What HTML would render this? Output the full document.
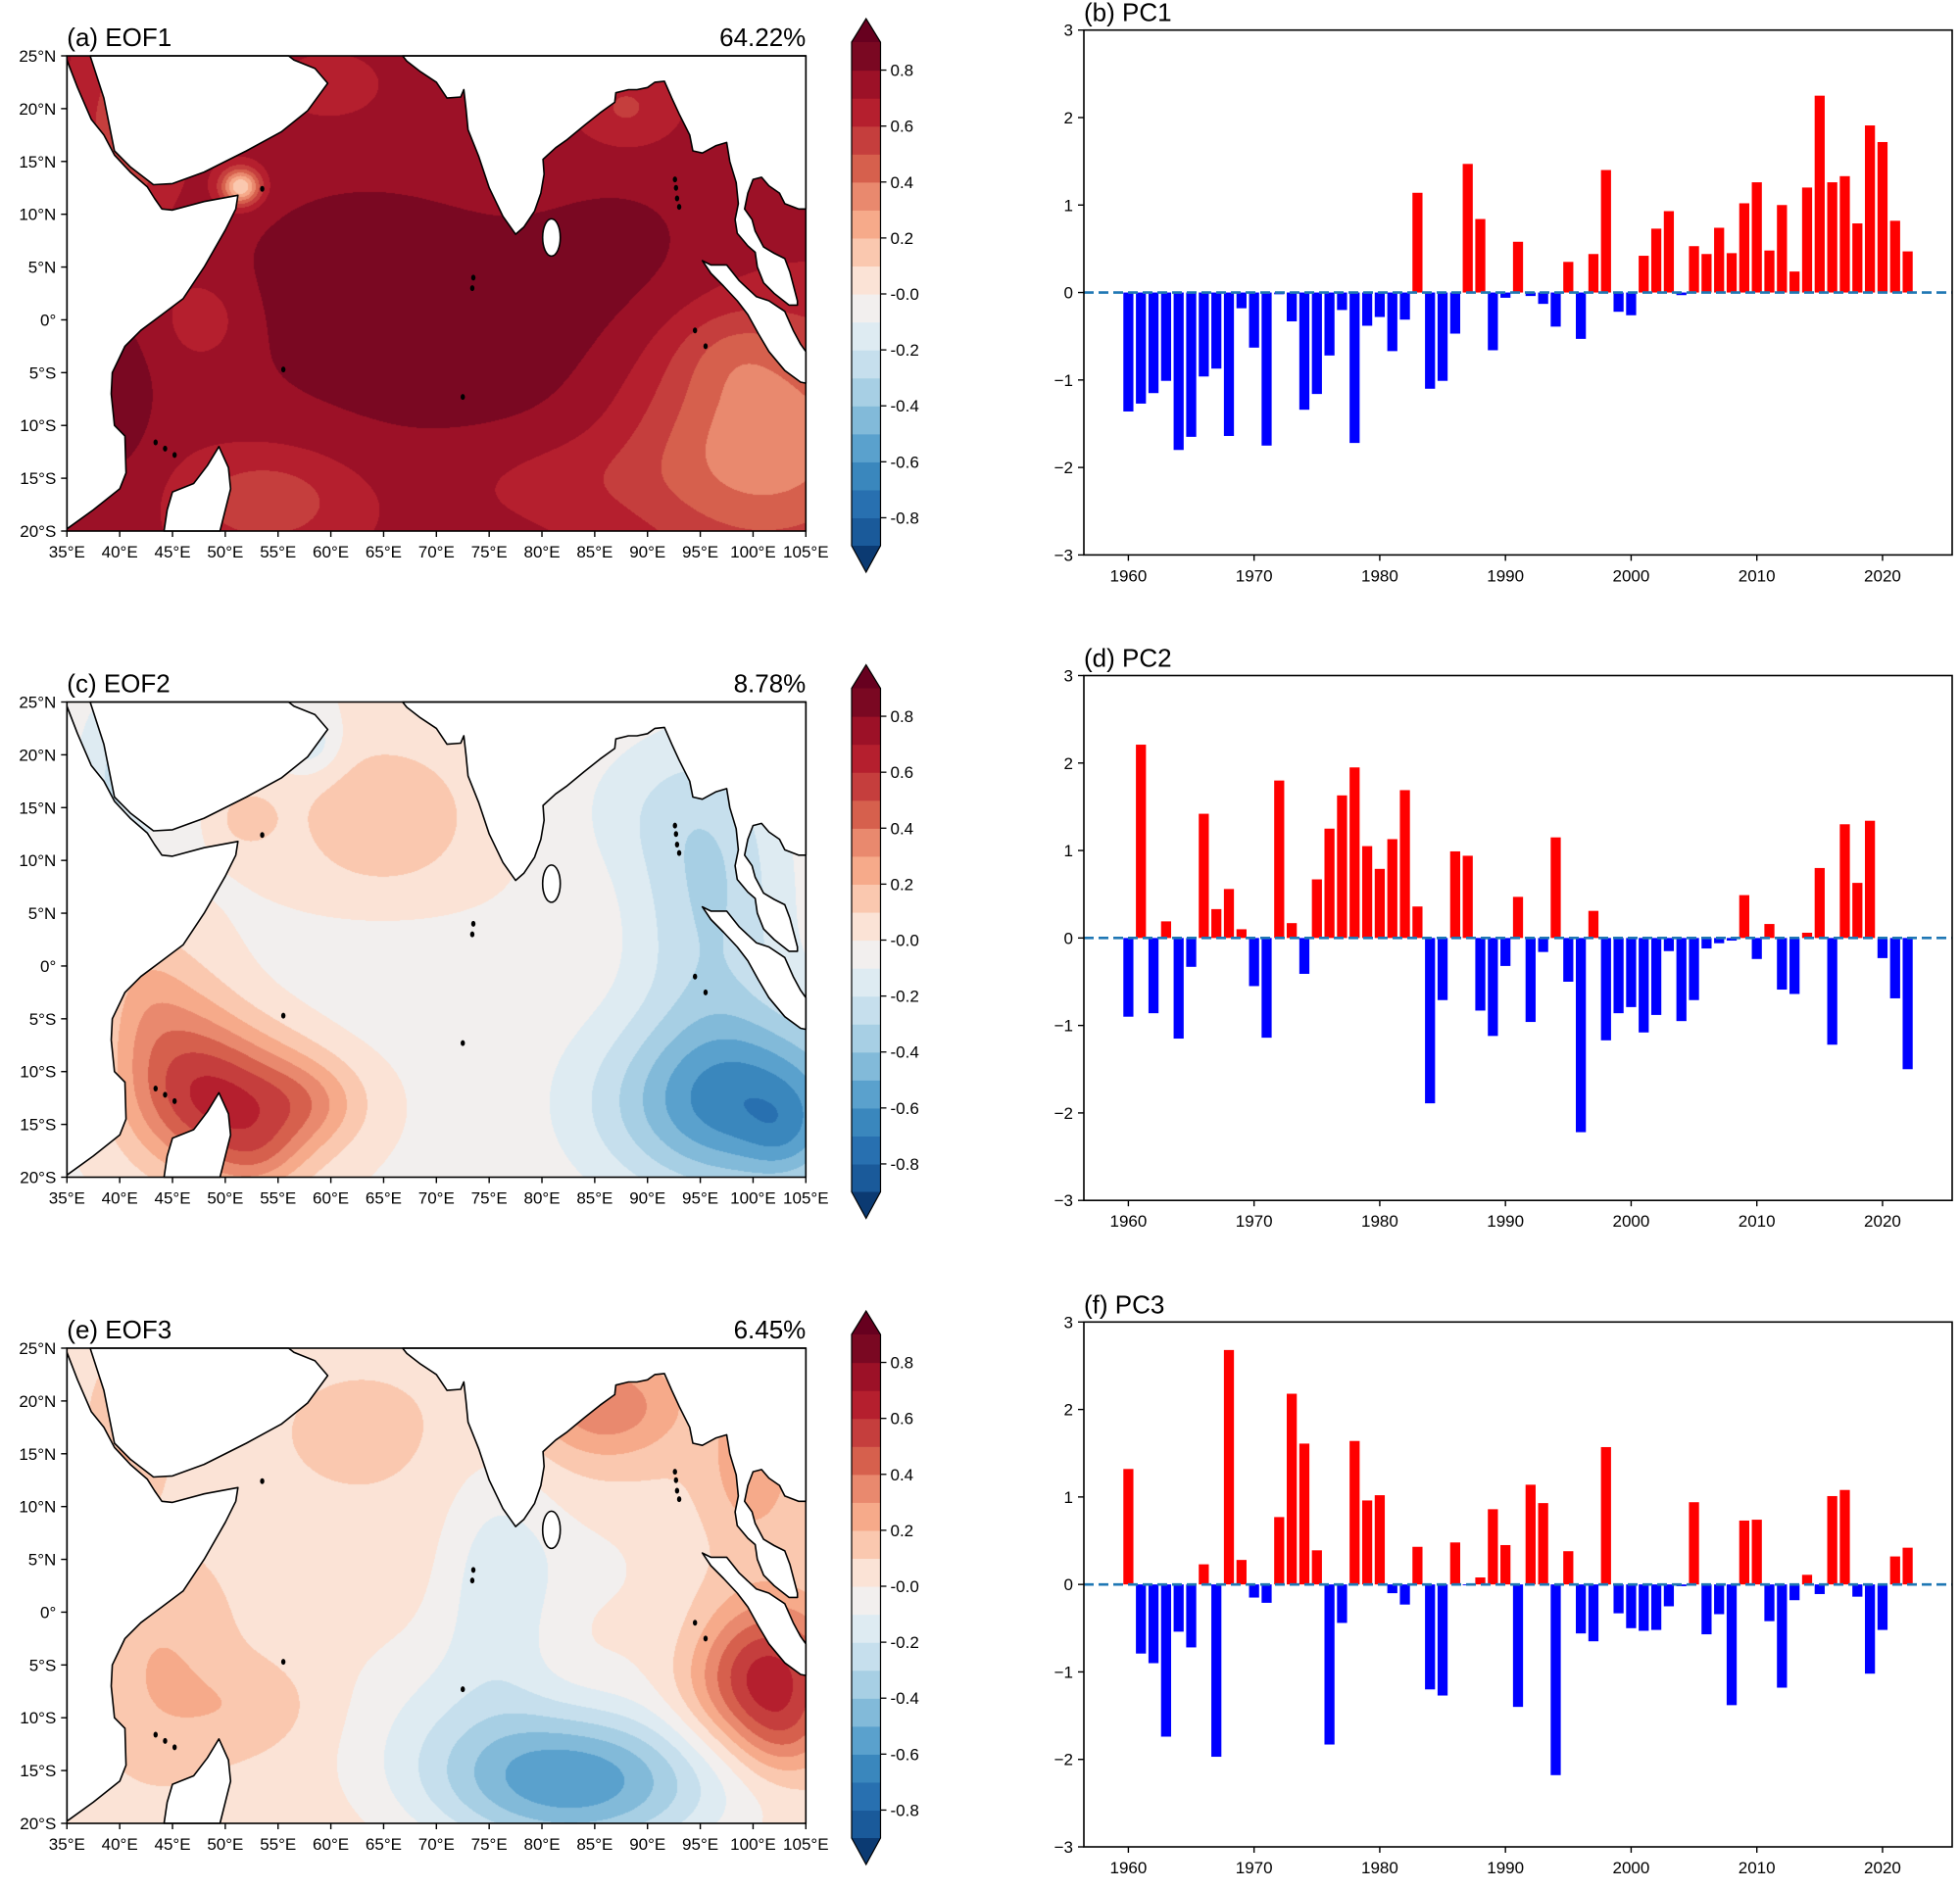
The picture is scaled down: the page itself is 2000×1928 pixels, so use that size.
<!DOCTYPE html>
<html><head><meta charset="utf-8">
<style>
html,body{margin:0;padding:0;background:#fff;}
#wrap{position:relative;width:2000px;height:1928px;overflow:hidden;font-family:"Liberation Sans","DejaVu Sans",sans-serif;}
canvas{position:absolute;}
svg{position:absolute;left:0;top:0;}
</style></head>
<body>
<div id="wrap">
<canvas id="cv0" width="754" height="485" style="left:68px;top:57px"></canvas>
<canvas id="cv1" width="754" height="485" style="left:68px;top:717px"></canvas>
<canvas id="cv2" width="754" height="485" style="left:68px;top:1376px"></canvas>
<svg id="svg" width="2000" height="1928" xmlns="http://www.w3.org/2000/svg"></svg>
</div>
<script>
// ---------- PC data ----------
const years = [];
for (let y = 1960; y <= 2022; y++) years.push(y);
const pc1 = [-1.36,-1.27,-1.15,-1.01,-1.8,-1.65,-0.96,-0.87,-1.64,-0.18,-0.63,-1.75,-0.02,-0.33,-1.34,-1.16,-0.72,-0.2,-1.72,-0.38,-0.28,-0.67,-0.31,1.14,-1.1,-1.01,-0.47,1.47,0.84,-0.66,-0.06,0.58,-0.04,-0.13,-0.39,0.35,-0.53,0.44,1.4,-0.22,-0.26,0.42,0.73,0.93,-0.03,0.53,0.44,0.74,0.45,1.02,1.26,0.48,1.0,0.24,1.2,2.25,1.26,1.33,0.79,1.91,1.72,0.82,0.47];
const pc2 = [-0.9,2.21,-0.86,0.19,-1.15,-0.33,1.42,0.33,0.56,0.1,-0.55,-1.14,1.8,0.17,-0.41,0.67,1.25,1.63,1.95,1.05,0.79,1.13,1.69,0.36,-1.89,-0.71,0.99,0.94,-0.83,-1.12,-0.32,0.47,-0.96,-0.16,1.15,-0.5,-2.22,0.31,-1.17,-0.86,-0.79,-1.08,-0.88,-0.15,-0.95,-0.71,-0.12,-0.06,-0.03,0.49,-0.24,0.16,-0.59,-0.64,0.06,0.8,-1.22,1.3,0.63,1.34,-0.23,-0.69,-1.5];
const pc3 = [1.32,-0.79,-0.9,-1.74,-0.54,-0.72,0.23,-1.97,2.68,0.28,-0.15,-0.21,0.77,2.18,1.61,0.39,-1.83,-0.44,1.64,0.96,1.02,-0.1,-0.23,0.43,-1.2,-1.27,0.48,-0.01,0.08,0.86,0.45,-1.4,1.14,0.93,-2.18,0.38,-0.56,-0.65,1.57,-0.33,-0.5,-0.53,-0.52,-0.25,-0.02,0.94,-0.57,-0.34,-1.38,0.73,0.74,-0.42,-1.18,-0.18,0.11,-0.11,1.01,1.08,-0.14,-1.02,-0.52,0.32,0.42];
const yTicks = [3,2,1,0,-1,-2,-3];
const xTicks = [1960,1970,1980,1990,2000,2010,2020];
const pcTitles = ["(b) PC1","(d) PC2","(f) PC3"];
const mapTitles = ["(a) EOF1","(c) EOF2","(e) EOF3"];
const mapPercents = ["64.22%","8.78%","6.45%"];
const cbTicks = [0.8,0.6,0.4,0.2,0.0,-0.2,-0.4,-0.6,-0.8];
const latTicks = [25,20,15,10,5,0,-5,-10,-15,-20];
const lonTicks = [35,40,45,50,55,60,65,70,75,80,85,90,95,100,105];
// field bumps: [lon, lat, sx, sy, amp]
const eof1Base = 0.72;
const eof1Bumps = [[75,-2,18,9,0.14],[62,6,8,6,0.08],[88,8,6,5,0.06],[101,-11,9,8,-0.42],[98,-3,4,3,-0.1],[54,-17,6,3.5,-0.2],[51.5,12.6,1.3,1.2,-0.65],[41,18,3,6,-0.22],[48,0,3,3,-0.12],[40,-8,3,8,0.1],[88,20,3,2.5,-0.14],[60,22,3,2,-0.08],[82,-15,8,3,-0.08]];
const eof2Base = -0.02;
const eof2Bumps = [[50,-13,6,5,0.55],[58,-13,4,3,0.2],[53,-18,3,2.5,0.15],[46,-7,4,6,0.2],[65,14,7,6,0.2],[52,14,2,2,0.15],[42,-3,3,6,0.15],[99,-13,9,6,-0.62],[103,-16,2.5,3,-0.12],[96,6,5,10,-0.28],[90,15,6,5,-0.1],[40,18,3,6,-0.2],[58,21,2,2,-0.2],[65,0,8,5,-0.05]];
const eof3Base = 0.08;
const eof3Bumps = [[44,-5,4,6,0.12],[52,-9,5,3,0.1],[41,17,2,4,0.15],[63,17,4,3,0.08],[86,19.5,5,3.5,0.3],[100,14,3,5,0.2],[101,-6,5,5,0.62],[103,-12,3,3,0.15],[83,-16,10,5,-0.65],[76,3,4,8,-0.22],[70,-8,8,6,-0.12],[95,-3,6,4,-0.1],[85,5,6,4,-0.08]];
const levelColors = ["#1a5a9a","#2870b0","#3a87bd","#5aa1cd","#82bad9","#a7cfe4","#c6dfed","#deebf2","#f2efee","#fbe3d6","#fac8af","#f6aa8a","#e9896e","#d6604d","#c53e3d","#b51f2e","#9c1127","#7a0822"];
const lowExtend = "#0b3a72", highExtend = "#67001f";

// ---------- helpers ----------
const NS = "http://www.w3.org/2000/svg";
const svg = document.getElementById("svg");
function mk(tag, attrs, parent) {
  const e = document.createElementNS(NS, tag);
  for (const k in attrs) e.setAttribute(k, attrs[k]);
  (parent || svg).appendChild(e);
  return e;
}
function txt(s, x, y, size, anchor, parent) {
  const t = mk("text", {x: x, y: y, "font-size": size, "text-anchor": anchor || "start", fill: "#000", "font-family": "Liberation Sans, DejaVu Sans, sans-serif"}, parent);
  t.textContent = s;
  return t;
}

// ---------- maps ----------
const MX = 68.3, MW = 754, MH = 485;
const mapTops = [57, 716.5, 1376];
function hexRGB(h){return [parseInt(h.slice(1,3),16),parseInt(h.slice(3,5),16),parseInt(h.slice(5,7),16)];}
const levRGB = levelColors.map(hexRGB);
const lowRGB = hexRGB(lowExtend), highRGB = hexRGB(highExtend);
function field(base, bumps, lon, lat) {
  let v = base;
  for (const b of bumps) {
    const dx = (lon - b[0]) / b[2], dy = (lat - b[1]) / b[3];
    v += b[4] * Math.exp(-0.5 * (dx*dx + dy*dy));
  }
  return v;
}
const fields = [[eof1Base,eof1Bumps],[eof2Base,eof2Bumps],[eof3Base,eof3Bumps]];
fields.forEach((f, i) => {
  const cv = document.getElementById("cv" + i);
  const ctx = cv.getContext("2d");
  const img = ctx.createImageData(MW, MH);
  for (let py = 0; py < MH; py++) {
    const lat = 25 - (py + 0.5) / MH * 45;
    for (let px = 0; px < MW; px++) {
      const lon = 35 + (px + 0.5) / MW * 70;
      const v = field(f[0], f[1], lon, lat);
      const k = Math.floor((v + 0.9) / 0.1);
      const c = k < 0 ? lowRGB : (k > 17 ? highRGB : levRGB[k]);
      const o = (py * MW + px) * 4;
      img.data[o] = c[0]; img.data[o+1] = c[1]; img.data[o+2] = c[2]; img.data[o+3] = 255;
    }
  }
  ctx.putImageData(img, 0, 0);
});

const africa = [[35,24.6],[36,22],[37.3,19],[38.5,17.5],[39.5,15.6],[41,14],[42.6,12.6],[43.3,11.5],[44,10.5],[45,10.4],[48,11.2],[51.2,11.8],[51,10.5],[50,8.5],[48,5],[46,2],[44,0.5],[42,-1],[40.5,-2.5],[39.3,-5],[39.2,-7],[39.5,-10],[40.5,-11],[40.6,-14.5],[40,-16],[37.5,-18],[35,-19.8],[35,24.6]];
const arabia = [[37.2,25],[38.5,21],[39.5,16],[41,14.5],[43.2,12.8],[45,12.9],[48,14],[52,16],[55.3,17.8],[57.8,19.8],[59.7,22.4],[58.5,23.8],[56.5,24.6],[56,25]];
const asia = [[66.8,25],[67.2,24.5],[68.5,23.5],[70,22.5],[71,21],[72.3,21.1],[72.6,21.8],[72.8,20],[73,18],[74,15.5],[75,12.5],[76.3,9.8],[77.5,8.1],[78.3,8.8],[79.3,10.3],[79.9,12],[80.2,13.8],[80.1,15.2],[81.3,16.3],[82.3,17],[84,18.4],[85.5,19.6],[86.9,20.6],[87,21.5],[88.2,21.8],[89,21.8],[90,22],[90.7,22.5],[91.6,22.6],[92.3,21],[93,19.5],[94,17.5],[94.3,16],[95.2,15.8],[96.5,16.5],[97.5,16.8],[97.8,15],[98.4,13],[98.6,11],[98.3,9.5],[98.5,8.2],[99.5,7],[100.2,6.4],[100.4,5],[101,3.5],[102,2.5],[103.4,1.4],[104.2,1.4],[104.2,1.8],[103.5,4.5],[103,5.8],[102,6.3],[101,6.9],[100.2,8.4],[99.9,9.5],[99.2,10.5],[99.5,12],[100,13.3],[100.8,13.5],[101.5,12.7],[102.5,12],[103,11],[104.3,10.5],[105,10.5],[105,25]];
const madagascar = [[49.4,-12],[50.3,-14],[50.5,-16],[50,-18],[49.5,-20],[44.2,-20],[44.5,-18],[45,-16.3],[47,-15.5],[48.3,-13.8],[49.4,-12]];
const sumatra = [[95.2,5.6],[96,5.2],[97.5,5.2],[98.7,3.7],[100.3,2.2],[101.5,1.8],[103,0.8],[103.8,-1],[104.5,-2.3],[105,-3],[105,-6],[104.5,-5.9],[103,-4.8],[101.5,-3],[100.5,-1.3],[99.5,0.5],[98.5,1.8],[97.2,3.2],[96,4.4]];
const lands = [africa, arabia, asia, madagascar, sumatra];
const landNames = ["africa-land","arabia-land","asia-land","madagascar-land","sumatra-land"];

function drawMap(i) {
  const top = mapTops[i];
  const g = mk("g", {transform: "translate(" + MX + "," + top + ")"});
  
  
  const P = (lon, lat) => [(lon - 35) * MW / 70, (25 - lat) * MH / 45];
  lands.forEach((poly, j) => {
    const d = poly.map((p, k) => (k ? "L" : "M") + P(p[0], p[1]).map(v => v.toFixed(1)).join(",")).join("") + "Z";
    const e = mk("path", {d: d, fill: "#fff", stroke: "#000", "stroke-width": 1.6, "stroke-linejoin": "round"}, g);
    
    
  });
  const sl = P(80.9, 7.8);
  const sri = mk("ellipse", {cx: sl[0], cy: sl[1], rx: 9, ry: 19, fill: "#fff", stroke: "#000", "stroke-width": 1.6}, g);
  
  
  const islands = [[92.7,12.5],[92.8,11.5],[93,10.7],[92.6,13.3],[73.5,4],[73.4,3],[55.5,-4.7],[43.4,-11.6],[44.3,-12.2],[45.2,-12.8],[72.5,-7.3],[53.5,12.4],[94.5,-1],[95.5,-2.5]];
  islands.forEach(p => {
    const q = P(p[0], p[1]);
    const e = mk("ellipse", {cx: q[0], cy: q[1], rx: 2.2, ry: 3, fill: "#000"}, g);
    
    
  });
  const fr = mk("rect", {x: 0, y: 0, width: MW, height: MH, fill: "none", stroke: "#000", "stroke-width": 1.6}, g);
  
  
  latTicks.forEach(l => {
    const y = P(35, l)[1];
    mk("line", {x1: -6, x2: 0, y1: y, y2: y, stroke: "#000", "stroke-width": 1.4}, g);
    const lab = l > 0 ? l + "°N" : (l < 0 ? (-l) + "°S" : "0°");
    const t = txt(lab, -11, y + 6, 17, "end", g);
    
    
  });
  lonTicks.forEach(l => {
    const x = P(l, 0)[0];
    mk("line", {x1: x, x2: x, y1: MH, y2: MH + 6, stroke: "#000", "stroke-width": 1.4}, g);
    const t = txt(l + "°E", x, MH + 27, 17, "middle", g);
    
    
  });
  const t1 = txt(mapTitles[i], 0, -10, 26, "start", g);
  
  
  const t2 = txt(mapPercents[i], MW, -10, 26, "end", g);
  
  
  const cb = mk("g", {transform: "translate(869," + (top - 14) + ")"});
  
  
  const CW = 29.5, CH = 514, bh = CH / 18;
  levelColors.forEach((c, k) => {
    const r = mk("rect", {x: 0, y: CH - (k + 1) * bh, width: CW, height: bh + 0.6, fill: c}, cb);
    
    
  });
  mk("path", {d: "M0,0L" + CW/2 + ",-24L" + CW + ",0Z", fill: highExtend}, cb);
  mk("path", {d: "M0," + CH + "L" + CW/2 + "," + (CH + 27) + "L" + CW + "," + CH + "Z", fill: lowExtend}, cb);
  mk("path", {d: "M0,0L" + CW/2 + ",-24L" + CW + ",0L" + CW + "," + CH + "L" + CW/2 + "," + (CH + 27) + "L0," + CH + "Z", fill: "none", stroke: "#000", "stroke-width": 1.2}, cb);
  cbTicks.forEach(v => {
    const y = (0.9 - v) / 1.8 * CH;
    mk("line", {x1: CW, x2: CW + 6, y1: y, y2: y, stroke: "#000", "stroke-width": 1.3}, cb);
    const t = txt(v === 0 ? "-0.0" : v.toFixed(1), CW + 10, y + 6, 17, "start", cb);
    
    
  });
}
[0,1,2].forEach(drawMap);

// ---------- PC bar charts ----------
const AX = 1106, AR = 1992, pcTops = [30.7, 689.5, 1349.3], AH = 535.7;
const xmin = 1956.46, xmax = 2025.54;
function xs(v) { return AX + (v - xmin) / (xmax - xmin) * (AR - AX); }
function drawPC(i, series) {
  const top = pcTops[i];
  const ys = v => top + (3 - v) / 6 * AH;
  const g = mk("g", {});
  
  
  series.forEach((v, k) => {
    const yr = years[k];
    const x0 = xs(yr - 0.4), x1 = xs(yr + 0.4);
    const y0 = ys(Math.max(v, 0)), y1 = ys(Math.min(v, 0));
    const r = mk("rect", {x: x0, y: y0, width: x1 - x0, height: Math.max(y1 - y0, 0.5), fill: v >= 0 ? "#ff0000" : "#0000ff"}, g);
    
    
  });
  const zl = mk("line", {x1: AX, x2: AR, y1: ys(0), y2: ys(0), stroke: "#1f77b4", "stroke-width": 2.6, "stroke-dasharray": "10,5"}, g);
  
  
  const fr = mk("rect", {x: AX, y: top, width: AR - AX, height: AH, fill: "none", stroke: "#000", "stroke-width": 1.6}, g);
  
  
  yTicks.forEach(v => {
    const y = ys(v);
    mk("line", {x1: AX - 6, x2: AX, y1: y, y2: y, stroke: "#000", "stroke-width": 1.4}, g);
    const t = txt(String(v === 0 ? 0 : v).replace("-", "−"), AX - 11, y + 6, 17, "end", g);
    
    
  });
  xTicks.forEach(v => {
    const x = xs(v);
    mk("line", {x1: x, x2: x, y1: top + AH, y2: top + AH + 6, stroke: "#000", "stroke-width": 1.4}, g);
    const t = txt(String(v), x, top + AH + 27, 17, "middle", g);
    
    
  });
  const tt = txt(pcTitles[i], AX, top - 9, 26, "start", g);
  
  
}
drawPC(0, pc1); drawPC(1, pc2); drawPC(2, pc3);
</script>
</body></html>
